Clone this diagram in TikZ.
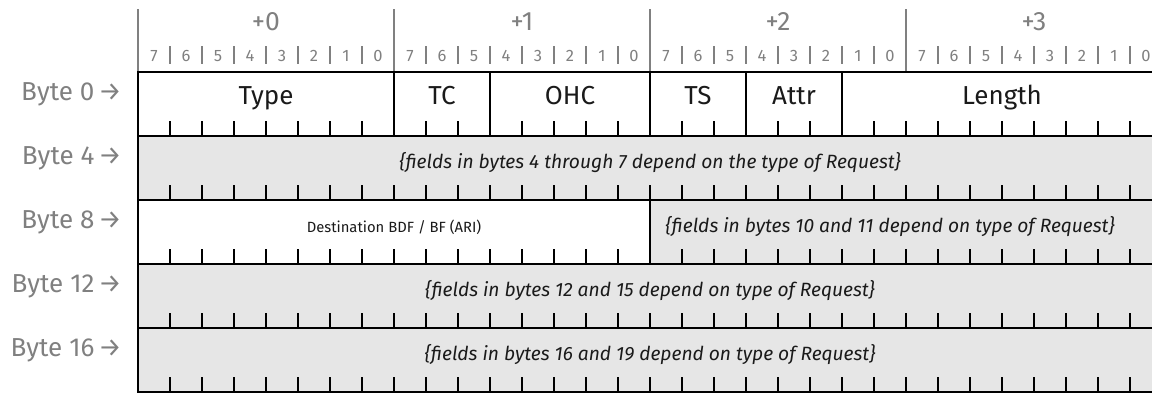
\documentclass[tikz,border=0pt]{standalone}
\usepackage{fontspec}
\setmainfont{Fira Sans}
\definecolor{lab}{HTML}{808080}
\definecolor{fld}{HTML}{E6E6E6}
\definecolor{ink}{HTML}{1A1A1A}
\newcommand\regfield[8]{%
  \pgfmathsetmacro\xa{138+32*#2}%
  \pgfmathsetmacro\xb{138+32*(#3+1)}%
  \pgfmathsetmacro\yb{#4+64}%
  \pgfmathtruncatemacro\ka{#2+1}%
  \pgfmathtruncatemacro\kb{#3}%
  \fill[#5] (\xa,#4) rectangle (\xb,\yb);
  \foreach \k in {\ka,...,\kb} \draw[tick] (138+32*\k,\yb) -- ++(0,-15);
  \draw[border] (\xa,#4) rectangle (\xb,\yb);
  \node[#6,anchor=base] (#1) at ({(\xa+\xb)/2+#7},#4+32) {#8};
}
\begin{document}
\begin{tikzpicture}[x=1pt,y=-1pt,
  bytelab/.style={text=lab,font=\fontsize{26.5}{26.5}\selectfont,anchor=base,inner sep=0pt},
  bitlab/.style={text=lab,font=\fontsize{16.5}{16.5}\selectfont,anchor=base,inner sep=0pt},
  hdr/.style={draw=lab,line width=1.4pt},
  bitsep/.style={draw=lab,line width=1.2pt},
  tick/.style={draw=black,line width=1.8pt},
  border/.style={draw=black,line width=2.6pt},
  fname/.style={text=ink,font=\fontsize{26}{26}\selectfont,inner sep=0pt},
  fnote/.style={text=ink,font=\itshape\fontsize{19.2}{19.2}\selectfont,inner sep=0pt},
  fsmall/.style={text=ink,font=\fontsize{14.8}{14.8}\selectfont,inner sep=0pt},
  rowlab/.style={text=lab,font=\fontsize{26}{26}\selectfont,anchor=base east,inner sep=0pt}]
\useasboundingbox (0,0) rectangle (1152,392);
\clip (0,0) rectangle (1152,392);
% header
\foreach \b in {0,...,3} {
  \node[bytelab] (hb\b) at (266+256*\b,30) {+\b};
  \draw[hdr] (138+256*\b,9) -- (138+256*\b,72);
}
\foreach \i in {0,...,31} {
  \pgfmathtruncatemacro\n{7-mod(\i,8)}
  \node[bitlab] (bit\i) at (154+32*\i,61) {\n};
}
\foreach \i in {1,...,31} {
  \pgfmathtruncatemacro\m{mod(\i,8)}
  \ifnum\m>0 \draw[bitsep] (138+32*\i,46) -- (138+32*\i,64);\fi
}
% row 0
\regfield{type}{0}{7}{72}{white}{fname}{0}{Type}
\regfield{tc}{8}{10}{72}{white}{fname}{0}{TC}
\regfield{ohc}{11}{15}{72}{white}{fname}{0}{OHC}
\regfield{ts}{16}{18}{72}{white}{fname}{0}{TS}
\regfield{attr}{19}{21}{72}{white}{fname}{0}{Attr}
\regfield{len}{22}{31}{72}{white}{fname}{0}{Length}
% row 4
\regfield{r4}{0}{31}{136}{fld}{fnote}{0}{\{fields in bytes 4 through 7 depend on the type of Request\}}
% row 8
\regfield{dest}{0}{15}{200}{white}{fsmall}{0}{Destination BDF / BF (ARI)}
\regfield{r10}{16}{31}{200}{fld}{fnote}{-16}{\{fields in bytes 10 and 11 depend on type of Request\}}
% row 12
\regfield{r12}{0}{31}{264}{fld}{fnote}{0}{\{fields in bytes 12 and 15 depend on type of Request\}}
% row 16
\regfield{r16}{0}{31}{328}{fld}{fnote}{0}{\{fields in bytes 16 and 19 depend on type of Request\}}
% row labels
\node[rowlab] (l0) at (122,100) {Byte 0\hspace{4pt}→};
\node[rowlab] (l4) at (122,164) {Byte 4\hspace{4pt}→};
\node[rowlab] (l8) at (122,228) {Byte 8\hspace{4pt}→};
\node[rowlab] (l12) at (122,292) {Byte 12\hspace{4pt}→};
\node[rowlab] (l16) at (122,356) {Byte 16\hspace{4pt}→};
\end{tikzpicture}
\end{document}
